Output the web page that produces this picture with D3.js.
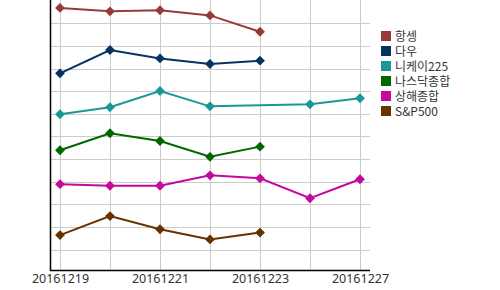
<!DOCTYPE html>
<html>
<head>
<meta charset="utf-8">
<script src="https://cdn.jsdelivr.net/npm/d3@7"></script>
<style>
  body { margin: 0; background: #fff; }
  svg { display: block; font-family: "Noto Sans CJK KR", "Noto Sans", sans-serif; }
</style>
</head>
<body>
<svg id="chart"></svg>
<script>
var width = 500, height = 290;

var dates = ["20161219", "20161220", "20161221", "20161222", "20161223", "20161226", "20161227"];
var tickLabels = ["20161219", "20161221", "20161223", "20161227"];
var names = ["항셍", "다우", "니케이225", "나스닥종합", "상해종합", "S&P500"];
var colors = ["#993a3a", "#06335f", "#1a9898", "#006600", "#c40a9c", "#663300"];

// relative values (grid units, no y labels shown in the original)
var hangseng = [11.68, 11.53, 11.58, 11.35, 10.63, null, null];
var dow      = [8.79, 9.82, 9.45, 9.20, 9.35, null, null];
var nikkei   = [6.98, 7.29, 8.01, 7.33, null, 7.42, 7.69];
var nasdaq   = [5.39, 6.14, 5.80, 5.10, 5.55, null, null];
var shanghai = [3.89, 3.82, 3.82, 4.28, 4.15, 3.27, 4.11];
var sp500    = [1.64, 2.48, 1.90, 1.45, 1.75, null, null];
var series = [hangseng, dow, nikkei, nasdaq, shanghai, sp500];

var left = 50, right = 370, axisY = 270;

var svg = d3.select("#chart")
  .attr("width", width)
  .attr("height", height);

var xScale = d3.scalePoint()
  .domain(dates)
  .range([left + 10, right - 10]);

var yScale = d3.scaleLinear()
  .domain([0, 12])
  .range([272.2, 0.7]);

// grid
svg.append("g")
  .selectAll("line")
  .data(d3.range(1, 12))
  .enter()
  .append("line")
  .attr("x1", left).attr("x2", right)
  .attr("y1", d => Math.round(yScale(d)) + 0.5)
  .attr("y2", d => Math.round(yScale(d)) + 0.5)
  .attr("stroke", "#cccccc");

svg.append("g")
  .selectAll("line")
  .data(dates)
  .enter()
  .append("line")
  .attr("x1", d => xScale(d) + 0.5).attr("x2", d => xScale(d) + 0.5)
  .attr("y1", 0).attr("y2", axisY)
  .attr("stroke", "#cccccc");

// axes lines
svg.append("line")
  .attr("x1", left + 0.5).attr("x2", left + 0.5)
  .attr("y1", 0).attr("y2", axisY + 1)
  .attr("stroke", "#000").attr("stroke-width", 1.5);

svg.append("line")
  .attr("x1", left).attr("x2", right)
  .attr("y1", axisY + 0.5).attr("y2", axisY + 0.5)
  .attr("stroke", "#000").attr("stroke-width", 1.5);

var xAxis = d3.axisBottom(xScale)
  .tickValues(tickLabels)
  .tickSize(0)
  .tickPadding(4);

var gx = svg.append("g")
  .attr("transform", "translate(0," + axisY + ")")
  .call(xAxis);
gx.select(".domain").remove();
gx.selectAll("text")
  .attr("fill", "#333")
  .style("font-family", "'Noto Sans', sans-serif")
  .style("font-size", "12.5px");

// lines + markers
var line = d3.line()
  .x(d => xScale(d.date))
  .y(d => yScale(d.value));

var diamond = d3.symbol().type(d3.symbolDiamond2).size(62);

series.forEach(function (vals, i) {
  var pts = dates.map((d, j) => ({ date: d, value: vals[j] }))
                 .filter(p => p.value != null);
  svg.append("path")
    .datum(pts)
    .attr("fill", "none")
    .attr("stroke", colors[i])
    .attr("stroke-width", 2)
    .attr("d", line);

  svg.append("g")
    .selectAll("path")
    .data(pts)
    .enter()
    .append("path")
    .attr("d", diamond)
    .attr("transform", p => "translate(" + xScale(p.date) + "," + yScale(p.value) + ")")
    .attr("fill", colors[i]);
});

// legend
var legend = svg.append("g")
  .attr("transform", "translate(381,31)")
  .selectAll("g")
  .data(names)
  .enter()
  .append("g")
  .attr("transform", (d, i) => "translate(0," + (i * 15) + ")");

legend.append("rect")
  .attr("width", 10).attr("height", 10)
  .attr("fill", (d, i) => colors[i]);

legend.append("text")
  .attr("x", 14)
  .attr("y", 10)
  .attr("fill", "#333")
  .style("font-size", "12px")
  .text(d => d);
</script>
</body>
</html>
